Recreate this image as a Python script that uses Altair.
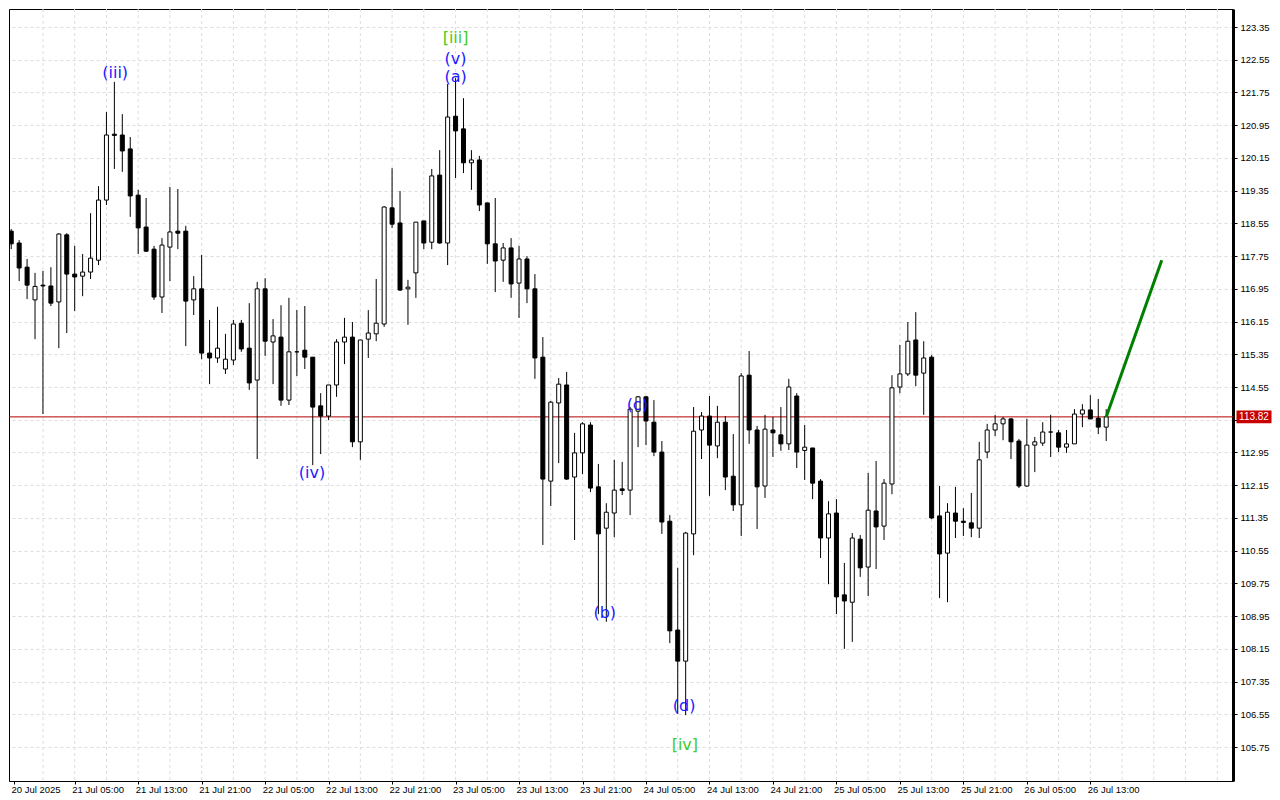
import altair as alt
import pandas as pd

# ---- hourly candles, 20 Jul 2025 21:00 -> 26 Jul 2025 15:00 ----
opens = [118.36, 118.07, 117.48, 116.68, 117.04, 117.02, 116.63, 118.27, 117.31, 117.26,
         117.36, 117.65, 119.12, 120.73, 120.71, 120.37, 119.24, 118.46, 117.92, 116.75,
         117.97, 118.36, 118.36, 116.68, 116.95, 115.38, 115.26, 114.99, 115.21, 116.11,
         115.50, 114.72, 116.95, 115.65, 115.77, 114.23, 115.41, 115.45, 115.28, 114.09,
         113.84, 114.60, 115.65, 115.77, 113.21, 115.72, 115.85, 116.09, 118.93, 118.56,
         116.95, 117.34, 118.61, 118.09, 119.73, 118.07, 121.17, 120.86, 120.03, 120.10,
         119.05, 118.05, 117.65, 117.95, 117.09, 117.68, 116.95, 115.28, 112.25, 114.16,
         114.60, 112.35, 112.94, 113.62, 112.11, 111.10, 111.47, 112.06, 112.03, 113.96,
         114.31, 113.69, 112.96, 111.27, 108.61, 107.85, 110.96, 113.50, 113.84, 113.11,
         113.69, 112.37, 111.67, 114.84, 113.50, 112.13, 113.50, 113.38, 113.16, 114.33,
         113.00, 113.06, 112.25, 110.86, 111.47, 109.47, 109.29, 110.83, 110.15, 111.52,
         111.15, 112.18, 114.55, 114.87, 115.70, 114.89, 115.28, 111.40, 110.49, 111.47,
         111.27, 111.23, 111.10, 112.96, 113.50, 113.65, 113.77, 113.23, 112.13, 113.13,
         113.18, 113.45, 113.43, 113.08, 113.16, 113.89, 113.99, 113.79, 113.57]
highs = [118.41, 118.14, 117.68, 117.34, 117.39, 117.48, 118.31, 118.31, 118.00, 117.80,
         118.80, 119.46, 121.27, 122.01, 121.22, 120.66, 119.37, 119.17, 118.00, 118.19,
         119.44, 119.39, 118.49, 117.26, 117.78, 116.19, 116.51, 115.85, 116.19, 116.19,
         116.60, 117.12, 117.21, 116.21, 116.55, 116.73, 116.43, 116.53, 115.28, 114.40,
         114.60, 115.72, 116.24, 116.14, 115.70, 116.43, 117.19, 118.97, 119.90, 119.34,
         117.17, 118.58, 118.61, 119.88, 120.34, 121.96, 122.10, 121.61, 120.34, 120.20,
         119.05, 119.17, 118.07, 118.19, 118.00, 117.75, 117.31, 115.77, 114.21, 114.77,
         114.92, 113.43, 113.69, 113.69, 112.67, 111.71, 112.77, 112.72, 114.06, 114.33,
         114.33, 114.23, 113.23, 111.42, 110.13, 111.01, 114.06, 113.94, 114.33, 114.09,
         113.84, 113.40, 114.89, 115.43, 113.60, 113.87, 113.82, 114.06, 114.75, 114.40,
         113.62, 113.06, 112.30, 111.76, 111.81, 110.25, 110.98, 110.93, 112.45, 112.74,
         112.30, 114.84, 115.58, 116.14, 116.38, 115.67, 115.33, 112.13, 111.71, 112.11,
         111.59, 111.96, 113.21, 113.65, 113.87, 113.82, 113.79, 113.28, 113.77, 113.33,
         113.69, 113.87, 113.50, 113.50, 114.01, 114.13, 114.35, 114.26, 114.01]
lows = [117.92, 117.14, 116.70, 115.72, 113.89, 116.53, 115.50, 115.87, 116.41, 116.77,
        117.19, 117.53, 119.00, 119.88, 119.81, 118.71, 117.80, 117.85, 116.68, 116.36,
        117.14, 117.92, 115.55, 116.31, 115.23, 114.62, 115.14, 114.87, 115.09, 115.41,
        114.48, 112.79, 115.31, 114.62, 114.09, 114.11, 114.82, 114.99, 112.64, 112.91,
        113.74, 114.31, 115.11, 113.08, 112.77, 115.26, 115.67, 116.02, 118.44, 116.90,
        116.07, 116.73, 117.92, 117.92, 118.05, 117.53, 119.66, 119.78, 119.37, 118.85,
        117.56, 116.87, 117.12, 116.73, 116.24, 116.60, 114.75, 110.69, 111.64, 112.69,
        112.28, 110.81, 112.42, 111.98, 109.00, 108.81, 110.88, 111.91, 111.42, 113.08,
        113.13, 112.86, 110.96, 108.29, 106.56, 106.53, 110.44, 112.79, 111.89, 112.81,
        112.03, 111.52, 110.91, 113.16, 111.08, 111.84, 112.84, 112.99, 113.01, 112.57,
        112.28, 111.81, 110.37, 109.73, 109.00, 108.15, 108.32, 109.91, 109.44, 110.10,
        110.81, 111.93, 114.40, 114.82, 114.57, 113.87, 111.32, 109.39, 109.29, 110.86,
        110.91, 110.88, 110.86, 112.81, 113.35, 113.25, 112.79, 112.08, 112.11, 112.47,
        113.11, 112.84, 112.96, 112.94, 113.16, 113.57, 113.77, 113.40, 113.23]
closes = [118.05, 117.46, 117.04, 117.01, 117.02, 116.60, 118.29, 117.31, 117.24, 117.36,
          117.70, 119.12, 120.71, 120.70, 120.32, 119.22, 118.44, 117.87, 116.75, 118.02,
          118.34, 118.31, 116.65, 116.95, 115.38, 115.26, 115.50, 115.23, 116.09, 115.48,
          114.65, 116.95, 115.67, 115.80, 114.23, 115.41, 115.41, 115.28, 114.06, 113.84,
          114.60, 115.65, 115.77, 113.21, 115.70, 115.87, 116.11, 118.95, 118.53, 116.92,
          116.99, 118.58, 118.07, 119.71, 118.07, 121.15, 120.81, 120.03, 120.10, 119.00,
          118.05, 117.63, 117.95, 117.07, 117.68, 116.95, 115.26, 112.30, 114.18, 114.62,
          112.30, 112.94, 113.65, 112.08, 110.96, 111.49, 112.03, 112.02, 114.01, 114.31,
          113.72, 112.96, 111.25, 108.59, 107.85, 110.98, 113.47, 113.84, 113.13, 113.69,
          112.35, 111.67, 114.82, 113.50, 112.11, 113.52, 113.43, 113.16, 114.55, 112.96,
          113.08, 112.20, 110.86, 111.45, 109.42, 109.32, 110.86, 110.13, 111.54, 111.13,
          112.20, 114.53, 114.87, 115.67, 114.84, 115.26, 111.35, 110.47, 111.49, 111.27,
          111.24, 111.10, 112.77, 113.50, 113.65, 113.77, 113.21, 112.13, 113.13, 113.21,
          113.45, 113.45, 113.08, 113.16, 113.89, 113.99, 113.77, 113.57, 113.82]

# time axis labels (one every 8 bars)
tick_idx = list(range(0, 137, 8))
tick_labels = ["20 Jul 2025", "21 Jul 05:00", "21 Jul 13:00", "21 Jul 21:00", "22 Jul 05:00",
               "22 Jul 13:00", "22 Jul 21:00", "23 Jul 05:00", "23 Jul 13:00", "23 Jul 21:00",
               "24 Jul 05:00", "24 Jul 13:00", "24 Jul 21:00", "25 Jul 05:00", "25 Jul 13:00",
               "25 Jul 21:00", "26 Jul 05:00", "26 Jul 13:00"]
grid_idx = list(range(4, 153, 4))
price_ticks = [105.75, 106.55, 107.35, 108.15, 108.95, 109.75, 110.55, 111.35, 112.15, 112.95,
               113.75, 114.55, 115.35, 116.15, 116.95, 117.75, 118.55, 119.35, 120.15, 120.95,
               121.75, 122.55, 123.35]

# Elliott wave labels
wave_text = ["(iii)", "(iv)", "[iii]", "(v)", "(a)", "(b)", "(c)", "(d)", "[iv]"]
wave_idx = [13.1, 37.9, 56.0, 56.0, 56.0, 74.8, 78.9, 84.8, 84.9]
wave_price = [122.23, 112.45, 123.08, 122.57, 122.13, 109.03, 114.11, 106.75, 105.80]
wave_color = ["#1a1aff", "#1a1aff", "#44cc22", "#1a1aff", "#1a1aff", "#1a1aff", "#1a1aff",
              "#1a1aff", "#44cc22"]

# projected move
proj_idx = [138, 145]
proj_price = [113.82, 117.65]

n = len(opens)
candles = pd.DataFrame({"i": list(range(n)), "open": opens, "high": highs,
                        "low": lows, "close": closes})
waves = pd.DataFrame({"i": wave_idx, "p": wave_price, "t": wave_text, "c": wave_color})
proj = pd.DataFrame({"i": proj_idx, "p": proj_price})
last_price = closes[-1]
last = pd.DataFrame({"p": [last_price], "t": [f"{last_price:.2f}"]})
grid = pd.DataFrame({"i": grid_idx})

X_DOMAIN = [0.35, 153.35]
Y_DOMAIN = [104.92, 123.79]
xs = alt.Scale(domain=X_DOMAIN, nice=False, zero=False)
ys = alt.Scale(domain=Y_DOMAIN, nice=False, zero=False)

label_js = "[" + ",".join("'" + s + "'" for s in tick_labels) + "]"
x_axis = alt.Axis(values=[X_DOMAIN[0]] + tick_idx[1:],
                  labelExpr=label_js + "[round(datum.value / 8)]",
                  orient="bottom", labelAlign="left", labelFont="Liberation Sans",
                  labelFontSize=9.5, labelColor="black", labelPadding=0, labelOffset=-3,
                  tickSize=3, tickColor="black", domainColor="black", domainWidth=1,
                  grid=False, title=None, labelOverlap=False)
# the label hidden under the current-price box is left blank
y_axis = alt.Axis(values=price_ticks, orient="right",
                  labelExpr=f"abs(datum.value - {last_price}) < 0.2 ? '' : format(datum.value, '.2f')",
                  labelFont="Liberation Sans", labelFontSize=9.5, labelColor="black",
                  labelPadding=3, tickSize=4, tickColor="black", domainColor="black",
                  domainWidth=3, grid=True, gridDash=[3, 3], gridColor="#dddddd",
                  title=None, labelOverlap=False)

X = alt.X("i:Q", scale=xs, axis=x_axis)


def Y(field):
    return alt.Y(field, scale=ys, axis=y_axis)


vgrid = alt.Chart(grid).mark_rule(color="#dddddd", strokeDash=[3, 3], strokeWidth=1).encode(
    x=X
)

price_line = alt.Chart(last).mark_rule(color="#b40000", strokeWidth=1).encode(
    y=Y("p:Q")
)

wicks = alt.Chart(candles).mark_rule(color="black", strokeWidth=1, clip=True).encode(
    x=X, y=Y("low:Q"), y2="high:Q",
)

bodies = alt.Chart(candles).mark_bar(size=4, stroke="black", strokeWidth=1, clip=True).encode(
    x=X, y=Y("open:Q"), y2="close:Q",
    fill=alt.condition("datum.close >= datum.open", alt.value("white"), alt.value("black")),
)

proj_line = alt.Chart(proj).mark_line(color="#008000", strokeWidth=3).encode(
    x=X, y=Y("p:Q"),
)

wave_labels = alt.Chart(waves).mark_text(font="DejaVu Sans", fontSize=16, align="center",
                                         baseline="middle").encode(
    x=X, y=Y("p:Q"), text="t:N",
    color=alt.Color("c:N", scale=None),
)

box = alt.Chart(last).mark_point(shape="M-1,-0.37H1V0.37H-1Z", size=1225, filled=True,
                                 opacity=1, color="#c80000").encode(
    x=alt.value(1245), y=Y("p:Q"),
)
box_text = alt.Chart(last).mark_text(color="white", font="Liberation Sans", fontSize=10,
                                     align="center", baseline="middle").encode(
    x=alt.value(1245), y=Y("p:Q"), text="t:N",
)

chart = alt.layer(vgrid, price_line, wicks, bodies, proj_line, wave_labels, box, box_text).properties(
    width=1224, height=772, padding={"left": 0, "top": 0, "right": 0, "bottom": 0},
    background="white",
).configure_view(stroke="black", strokeWidth=1)

chart.save("out.html", embed_options={"renderer": "svg", "actions": False})
